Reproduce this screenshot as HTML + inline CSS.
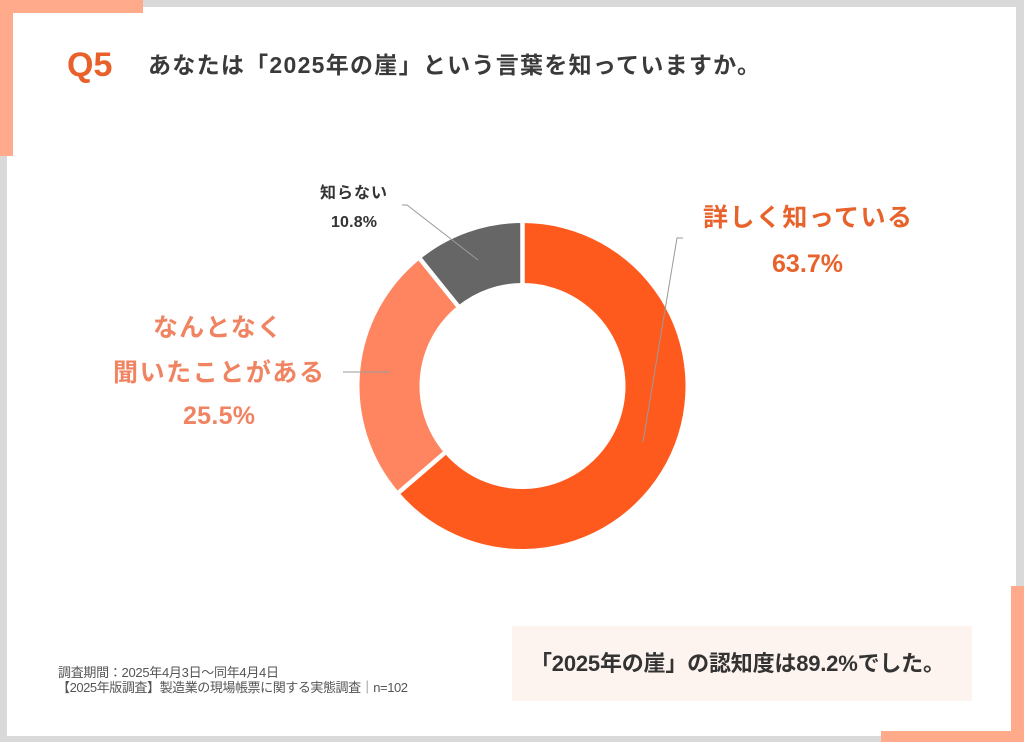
<!DOCTYPE html>
<html>
<head>
<meta charset="utf-8">
<style>
  html,body{margin:0;padding:0;}
  body{width:1024px;height:742px;overflow:hidden;background:#d9d9d9;}
  svg{display:block;}
</style>
</head>
<body>
<svg width="1024" height="742" viewBox="0 0 1024 742" xmlns="http://www.w3.org/2000/svg">
  <!-- frame -->
  <rect x="0" y="0" width="1024" height="742" fill="#d9d9d9"/>
  <rect x="7" y="7" width="1009" height="729" fill="#ffffff"/>
  <!-- corner accents -->
  <rect x="0" y="0" width="143" height="13" fill="#ffaa8a"/>
  <rect x="0" y="0" width="13" height="156" fill="#ffaa8a"/>
  <rect x="1011" y="586" width="13" height="156" fill="#ffaa8a"/>
  <rect x="881" y="731" width="143" height="11" fill="#ffaa8a"/>

  <!-- title -->
  <text x="67" y="76" font-family="'Liberation Sans', sans-serif" font-weight="700" font-size="34" fill="#e8602a">Q5</text>
  <text x="148" y="73" font-family="'Liberation Sans','Noto Sans CJK JP',sans-serif" font-weight="700" font-size="23" fill="#3a3a3a" textLength="612" lengthAdjust="spacing">あなたは「2025年の崖」という言葉を知っていますか。</text>

  <!-- donut -->
  <path d="M 522.5 223 A 163 163 0 1 1 398.93 492.29 L 444.42 453.17 A 103 103 0 1 0 522.5 283 Z" fill="#ff5a1e"/>
  <path d="M 398.93 492.29 A 163 163 0 0 1 420.18 259.10 L 457.85 305.81 A 103 103 0 0 0 444.42 453.17 Z" fill="#ff8560"/>
  <path d="M 420.18 259.10 A 163 163 0 0 1 522.5 223 L 522.5 283 A 103 103 0 0 0 457.85 305.81 Z" fill="#666666"/>
  <!-- separators -->
  <g stroke="#ffffff" stroke-width="4.5">
    <line x1="522.5" y1="219" x2="522.5" y2="287"/>
    <line x1="396.3" y1="494.6" x2="446.9" y2="451.0"/>
    <line x1="418.1" y1="256.5" x2="460.0" y2="308.5"/>
  </g>

  <!-- leader lines -->
  <g stroke="#9a9a9a" stroke-width="1" fill="none">
    <polyline points="402,205 407,205 478,260"/>
    <line x1="343" y1="372" x2="390" y2="372"/>
    <polyline points="643,442 677,238 683,238"/>
  </g>

  <!-- labels -->
  <g font-family="'Liberation Sans','Noto Sans CJK JP',sans-serif" font-weight="700" text-anchor="middle">
    <text x="353.5" y="198" font-size="16" fill="#333333" textLength="67" lengthAdjust="spacing">知らない</text>
    <text x="354" y="227" font-size="16" fill="#333333" textLength="46" lengthAdjust="spacing">10.8%</text>

    <text x="217.5" y="336" font-size="25" fill="#f08462" textLength="129" lengthAdjust="spacing">なんとなく</text>
    <text x="218.5" y="381" font-size="25" fill="#f08462" textLength="211" lengthAdjust="spacing">聞いたことがある</text>
    <text x="219" y="424" font-size="25" fill="#f08462" textLength="72" lengthAdjust="spacing">25.5%</text>

    <text x="807.5" y="226" font-size="25" fill="#e8632b" textLength="209" lengthAdjust="spacing">詳しく知っている</text>
    <text x="807.5" y="272" font-size="25" fill="#e8632b" textLength="71" lengthAdjust="spacing">63.7%</text>
  </g>

  <!-- footer notes -->
  <g font-family="'Liberation Sans','Noto Sans CJK JP',sans-serif" font-size="13" fill="#555555">
    <text x="58" y="677" textLength="221" lengthAdjust="spacing">調査期間：2025年4月3日〜同年4月4日</text>
    <text x="57" y="692" textLength="351" lengthAdjust="spacing">【2025年版調査】製造業の現場帳票に関する実態調査｜n=102</text>
  </g>

  <!-- summary box -->
  <rect x="512" y="626" width="460" height="75" fill="#fdf3ef"/>
  <text x="530" y="671" font-family="'Liberation Sans','Noto Sans CJK JP',sans-serif" font-weight="700" font-size="22" fill="#333333" textLength="415" lengthAdjust="spacing">「2025年の崖」の認知度は89.2%でした。</text>
</svg>
</body>
</html>
